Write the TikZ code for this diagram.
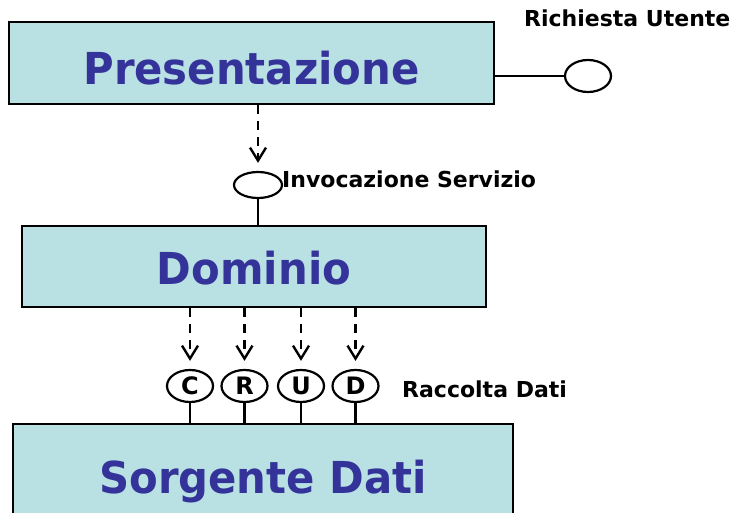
\documentclass[tikz,border=0pt]{standalone}
\usepackage{fontspec}
\setmainfont{DejaVu Sans}
\usetikzlibrary{arrows.meta}
\usetikzlibrary{shapes.geometric}
\definecolor{boxfill}{RGB}{185,224,227}
\definecolor{boxtext}{RGB}{51,51,153}
\newcommand{\narrow}[1]{\scalebox{0.95}[1]{#1}}

\begin{document}
\begin{tikzpicture}[x=1pt,y=-1pt,
  layer/.style={draw,black,fill=boxfill,line width=2.4pt,text=boxtext,inner sep=0pt,
    font=\fontsize{44}{50}\selectfont\bfseries,text depth=0pt},
  port/.style={draw,black,ellipse,line width=2.2pt,inner sep=0pt,
    font=\fontsize{24}{28}\selectfont\bfseries},
  tag/.style={inner sep=0pt,anchor=base west,font=\fontsize{22}{26}\selectfont\bfseries},
  dep/.style={line width=2.4pt,dash pattern=on 9pt off 7pt,shorten >=8pt},
  wire/.style={line width=2.2pt}]
\def\l{13pt}
\def\w{16pt}

\useasboundingbox (0,0) rectangle (734,513);
\clip (0,0) rectangle (734,513);

% the three layers
\node [layer, minimum width=485pt, minimum height=82pt, text height=44pt, name=l1] at (251.5,63) {\narrow{Presentazione}};
\node [layer, minimum width=464pt, minimum height=81pt, text height=37pt, name=l2] at (254,266.5) {\narrow{Dominio}};
\node [layer, minimum width=500pt, minimum height=94pt, text height=44pt, name=l3] at (263,471) {\narrow{Sorgente Dati}};

% interfaces
\node [port, minimum width=46pt, minimum height=32pt, name=r0] at (588,76) {};
\node [port, minimum width=48pt, minimum height=26pt, name=i0] at (258,185) {};
\node [port, minimum width=46pt, minimum height=32pt, name=c1] at (190,386) {C};
\node [port, minimum width=46pt, minimum height=32pt, name=c2] at (244.5,386) {R};
\node [port, minimum width=46pt, minimum height=32pt, name=c3] at (301,386) {U};
\node [port, minimum width=46pt, minimum height=32pt, name=c4] at (355.5,386) {D};

\node [tag, name=t1] at (524,27) {Richiesta Utente};
\node [tag, name=t2] at (282,188) {Invocazione Servizio};
\node [tag, name=t3] at (402,397) {Raccolta Dati};

\draw [wire] (l1.east |- r0) -- (r0);
\draw [dep,-{Straight Barb[length=\l, width=\w]}] (l1.south -| i0) to (i0);
\draw [wire] (i0) -- (i0 |- l2.north);
\foreach \c in {c1,c2,c3,c4} {
  \draw [dep,-{Straight Barb[length=\l, width=\w]}] (l2.south -| \c) to (\c);
  \draw [wire] (\c) -- (\c |- l3.north);
}
\end{tikzpicture}
\end{document}
